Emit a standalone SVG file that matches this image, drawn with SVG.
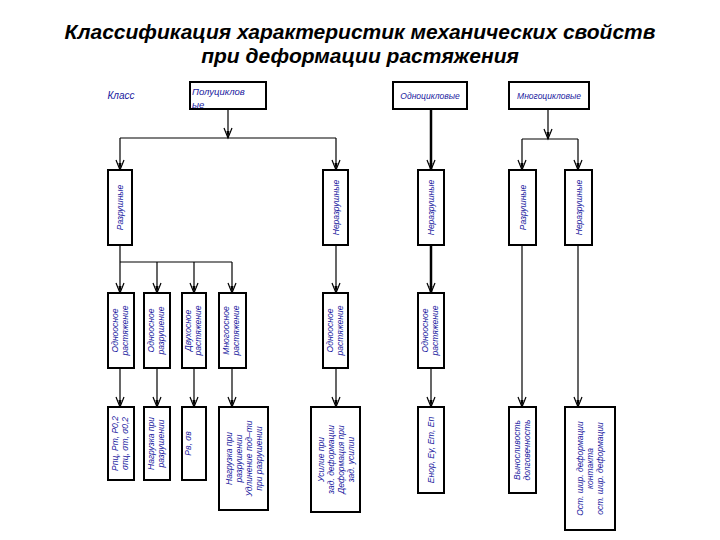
<svg xmlns="http://www.w3.org/2000/svg" width="720" height="540" viewBox="0 0 720 540">
<style>
.t{font-family:"Liberation Sans",Arial,sans-serif;font-size:21px;font-weight:bold;font-style:italic;fill:#000;text-anchor:middle}
.b{fill:#fff;stroke:#000;stroke-width:2}
.l{font-family:"Liberation Sans",Arial,sans-serif;font-size:8.5px;font-style:italic;fill:#1a1aa0;text-anchor:middle}
.c line,.c path{stroke:#000;stroke-width:1.2;fill:none}
</style>
<defs><marker id="a" markerWidth="12" markerHeight="10" refX="10" refY="4" orient="auto" markerUnits="userSpaceOnUse" overflow="visible"><path d="M0,0 L10,4 L0,8" fill="none" stroke="#000" stroke-width="1.2"/><path d="M3,2.5 L10,4 L3,5.5 Z" fill="#000"/></marker></defs>
<rect width="720" height="540" fill="#fff"/>
<text class="t" x="360" y="39">Классификация характеристик механических свойств</text>
<text class="t" x="360" y="63">при деформации растяжения</text>
<text class="l" x="121" y="99" style="font-size:10px">Класс</text>
<g class="c">
<line x1="228" y1="109" x2="228" y2="138" marker-end="url(#a)"/>
<line x1="120" y1="138" x2="336" y2="138"/>
<line x1="120" y1="138" x2="120" y2="170" marker-end="url(#a)"/>
<line x1="336" y1="138" x2="336" y2="170" marker-end="url(#a)"/>
<line x1="431" y1="109" x2="431" y2="170" marker-end="url(#a)" style="stroke-width:2.5"/>
<line x1="548" y1="109" x2="548" y2="139" marker-end="url(#a)"/>
<line x1="522" y1="139" x2="578" y2="139"/>
<line x1="522" y1="139" x2="522" y2="170" marker-end="url(#a)"/>
<line x1="578" y1="139" x2="578" y2="170" marker-end="url(#a)"/>
<line x1="120" y1="245" x2="120" y2="262"/>
<line x1="120" y1="262" x2="232" y2="262"/>
<line x1="120" y1="262" x2="120" y2="293" marker-end="url(#a)"/>
<line x1="157" y1="262" x2="157" y2="293" marker-end="url(#a)"/>
<line x1="194" y1="262" x2="194" y2="293" marker-end="url(#a)"/>
<line x1="232" y1="262" x2="232" y2="293" marker-end="url(#a)"/>
<line x1="336" y1="245" x2="336" y2="293" marker-end="url(#a)"/>
<line x1="431" y1="245" x2="431" y2="293" marker-end="url(#a)" style="stroke-width:2.5"/>
<line x1="522" y1="245" x2="522" y2="407" marker-end="url(#a)"/>
<line x1="578" y1="245" x2="578" y2="407" marker-end="url(#a)"/>
<line x1="120" y1="368" x2="120" y2="407" marker-end="url(#a)"/>
<line x1="157" y1="368" x2="157" y2="407" marker-end="url(#a)"/>
<line x1="194" y1="368" x2="194" y2="407" marker-end="url(#a)"/>
<line x1="232" y1="368" x2="232" y2="407" marker-end="url(#a)"/>
<line x1="336" y1="368" x2="336" y2="407" marker-end="url(#a)"/>
<line x1="431" y1="368" x2="431" y2="407" marker-end="url(#a)"/>
</g>
<g id="n-polu"><rect class="b" x="190" y="82" width="76" height="27"/><text class="l" x="192" y="95" style="text-anchor:start;font-size:9.5px">Полуциклов</text><text class="l" x="192" y="108" style="text-anchor:start;font-size:9.5px">ые</text></g>
<g id="n-odno"><rect class="b" x="393" y="82" width="74" height="27"/><text class="l" x="430" y="99">Одноцикловые</text></g>
<g id="n-mnogo"><rect class="b" x="509" y="82" width="80" height="27"/><text class="l" x="549" y="99">Многоцикловые</text></g>
<g id="r2a"><rect class="b" x="108" y="170" width="24" height="75"/><text class="l" transform="translate(123,207.5) rotate(-90)">Разрушные</text></g>
<g id="r2b"><rect class="b" x="323" y="170" width="25" height="75"/><text class="l" transform="translate(338.5,207.5) rotate(-90)">Неразрушные</text></g>
<g id="r2c"><rect class="b" x="418" y="170" width="26" height="75"/><text class="l" transform="translate(434,207.5) rotate(-90)">Неразрушные</text></g>
<g id="r2d"><rect class="b" x="509" y="170" width="27" height="75"/><text class="l" transform="translate(525.5,207.5) rotate(-90)">Разрушные</text></g>
<g id="r2e"><rect class="b" x="565" y="170" width="27" height="75"/><text class="l" transform="translate(581.5,207.5) rotate(-90)">Неразрушные</text></g>
<g id="r3a"><rect class="b" x="108" y="293" width="26" height="75"/><text class="l" transform="translate(120,330.5) rotate(-90)"><tspan x="0" dy="-2">Одноосное</tspan><tspan x="0" dy="10">растяжение</tspan></text></g>
<g id="r3b"><rect class="b" x="144" y="293" width="26" height="75"/><text class="l" transform="translate(156,330.5) rotate(-90)"><tspan x="0" dy="-2">Одноосное</tspan><tspan x="0" dy="10">разрушение</tspan></text></g>
<g id="r3c"><rect class="b" x="182" y="293" width="24" height="75"/><text class="l" transform="translate(193,330.5) rotate(-90)"><tspan x="0" dy="-2">Двухосное</tspan><tspan x="0" dy="10">растяжение</tspan></text></g>
<g id="r3d"><rect class="b" x="219" y="293" width="27" height="75"/><text class="l" transform="translate(231,330.5) rotate(-90)"><tspan x="0" dy="-2">Многоосное</tspan><tspan x="0" dy="10">растяжение</tspan></text></g>
<g id="r3e"><rect class="b" x="323" y="293" width="25" height="75"/><text class="l" transform="translate(334.5,330.5) rotate(-90)"><tspan x="0" dy="-2">Одноосное</tspan><tspan x="0" dy="10">растяжение</tspan></text></g>
<g id="r3f"><rect class="b" x="418" y="293" width="26" height="75"/><text class="l" transform="translate(430,330.5) rotate(-90)"><tspan x="0" dy="-2">Одноосное</tspan><tspan x="0" dy="10">растяжение</tspan></text></g>
<g id="r4a"><rect class="b" x="108" y="407" width="26" height="73"/><text class="l" transform="translate(120,443.5) rotate(-90)"><tspan x="0" dy="-2">Pпц, Pт, P0,2</tspan><tspan x="0" dy="10">σпц, σт, σ0,2</tspan></text></g>
<g id="r4b"><rect class="b" x="144" y="407" width="26" height="73"/><text class="l" transform="translate(156,443.5) rotate(-90)"><tspan x="0" dy="-2">Нагрузка при</tspan><tspan x="0" dy="10">разрушении</tspan></text></g>
<g id="r4c"><rect class="b" x="182" y="407" width="24" height="73"/><text class="l" transform="translate(193,443.5) rotate(-90)"><tspan x="0" dy="-2">Pв, σв</tspan></text></g>
<g id="r4d"><rect class="b" x="219" y="407" width="49" height="103"/><text class="l" transform="translate(243.5,458.5) rotate(-90)"><tspan x="0" dy="-12">Нагрузка при</tspan><tspan x="0" dy="10">разрушении</tspan><tspan x="0" dy="10">Удлинение под–ти</tspan><tspan x="0" dy="10">при разрушении</tspan></text></g>
<g id="r4e"><rect class="b" x="311" y="407" width="49" height="105"/><text class="l" transform="translate(335.5,459.5) rotate(-90)"><tspan x="0" dy="-12">Усилие при</tspan><tspan x="0" dy="10">зад. деформации</tspan><tspan x="0" dy="10">Деформация при</tspan><tspan x="0" dy="10">зад. усилии</tspan></text></g>
<g id="r4f"><rect class="b" x="418" y="407" width="26" height="86"/><text class="l" transform="translate(434,450) rotate(-90)">Eнор, Eу, Eт, Eп</text></g>
<g id="r4g"><rect class="b" x="509" y="407" width="27" height="86"/><text class="l" transform="translate(521.5,450) rotate(-90)"><tspan x="0" dy="-2">Выносливость</tspan><tspan x="0" dy="10">долговечность</tspan></text></g>
<g id="r4h"><rect class="b" x="565" y="407" width="50" height="123"/><text class="l" transform="translate(590,468.5) rotate(-90)"><tspan x="0" dy="-7">Ост. шир. деформации</tspan><tspan x="0" dy="10">контакта</tspan><tspan x="0" dy="10">ост. шир. деформации</tspan></text></g>
</svg>
